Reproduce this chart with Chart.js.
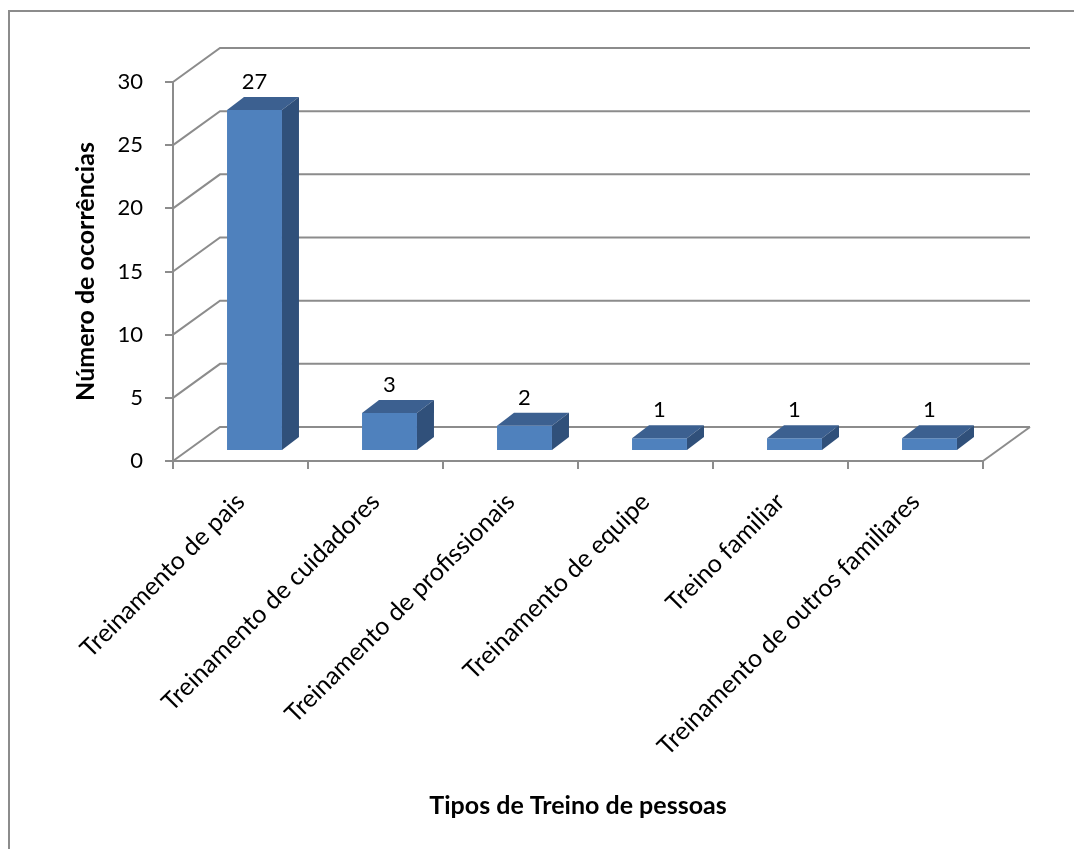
<!DOCTYPE html>
<html>
<head>
<meta charset="utf-8">
<title>Tipos de Treino de pessoas</title>
<script src="https://cdn.jsdelivr.net/npm/chart.js@4/dist/chart.umd.min.js"></script>
<style>
  html, body { margin: 0; padding: 0; background: #fff; }
  canvas { display: block; }
</style>
</head>
<body>
<canvas id="c" width="1074" height="849"></canvas>
<script>
// ---- data ----
const categories = [
  'Treinamento de pais',
  'Treinamento de cuidadores',
  'Treinamento de profissionais',
  'Treinamento de equipe',
  'Treino familiar',
  'Treinamento de outros familiares'
];
const occurrences = [27, 3, 2, 1, 1, 1];
const yTicks = [0, 5, 10, 15, 20, 25, 30];
const xTitle = 'Tipos de Treino de pessoas';
const yTitle = 'Número de ocorrências';

// ---- style ----
const FONT = 'Lato, "Open Sans", sans-serif';
const GRID = '#8c8c8c';
const WALL = { dx: 47, dy: -34 };       // depth of floor and side wall
const BAR_SHIFT = { dx: 14, dy: -10 };  // bars sit in the middle of the depth
const BAR_DEPTH = { dx: 17, dy: -13 };  // thickness of each bar
const FACE = '#4f81bd', TOP = '#3c6090', SIDE = '#30507a';

// outer frame of the chart area
const frame = {
  id: 'frame',
  beforeDraw(chart) {
    const ctx = chart.ctx;
    ctx.save();
    ctx.fillStyle = '#fff';
    ctx.fillRect(0, 0, chart.width, chart.height);
    ctx.strokeStyle = GRID;
    ctx.lineWidth = 2;
    ctx.beginPath();
    ctx.moveTo(9, chart.height);
    ctx.lineTo(9, 11);
    ctx.lineTo(chart.width, 11);
    ctx.stroke();
    ctx.restore();
  }
};

// side wall / back wall gridlines, floor, and 3D bar faces
const box3d = {
  id: 'box3d',
  beforeDatasetsDraw(chart) {
    const { ctx, chartArea: a, scales: { y } } = chart;
    ctx.save();
    ctx.strokeStyle = GRID;
    ctx.lineWidth = 2;
    yTicks.forEach(v => {
      const py = y.getPixelForValue(v);
      ctx.beginPath();
      ctx.moveTo(a.left, py);
      ctx.lineTo(a.left + WALL.dx, py + WALL.dy);
      ctx.lineTo(a.right + WALL.dx, py + WALL.dy);
      ctx.stroke();
    });
    const p0 = y.getPixelForValue(0);
    ctx.beginPath();
    ctx.moveTo(a.right, p0);
    ctx.lineTo(a.right + WALL.dx, p0 + WALL.dy);
    ctx.stroke();
    ctx.restore();

    // front faces are drawn by Chart.js inside the depth
    ctx.save();
    ctx.translate(BAR_SHIFT.dx, BAR_SHIFT.dy);
  },
  afterDatasetsDraw(chart) {
    const ctx = chart.ctx;
    const meta = chart.getDatasetMeta(0);
    const { dx, dy } = BAR_DEPTH;
    meta.data.forEach(bar => {
      const { x, y, base, width } = bar.getProps(['x', 'y', 'base', 'width'], true);
      const l = x - width / 2, r = x + width / 2;
      ctx.fillStyle = TOP;
      ctx.beginPath();
      ctx.moveTo(l, y);
      ctx.lineTo(l + dx, y + dy);
      ctx.lineTo(r + dx, y + dy);
      ctx.lineTo(r, y);
      ctx.closePath();
      ctx.fill();
      ctx.fillStyle = SIDE;
      ctx.beginPath();
      ctx.moveTo(r, y);
      ctx.lineTo(r + dx, y + dy);
      ctx.lineTo(r + dx, base + dy);
      ctx.lineTo(r, base);
      ctx.closePath();
      ctx.fill();
    });
    ctx.restore();

    // value labels above each bar
    ctx.save();
    ctx.fillStyle = '#000';
    ctx.font = '22px ' + FONT;
    ctx.textAlign = 'center';
    ctx.textBaseline = 'middle';
    meta.data.forEach((bar, i) => {
      const { x, y } = bar.getProps(['x', 'y'], true);
      ctx.fillText(String(occurrences[i]), x + BAR_SHIFT.dx, y + BAR_SHIFT.dy + dy - 15);
    });
    ctx.restore();
  }
};

new Chart(document.getElementById('c'), {
  type: 'bar',
  data: {
    labels: categories,
    datasets: [{
      data: occurrences,
      backgroundColor: FACE,
      borderWidth: 0,
      categoryPercentage: 1,
      barPercentage: 0.407,
      clip: false
    }]
  },
  options: {
    responsive: false,
    animation: false,
    devicePixelRatio: 1,
    layout: { padding: { top: 82, right: 91, bottom: 0, left: 0 } },
    plugins: { legend: { display: false }, tooltip: { enabled: false } },
    scales: {
      x: {
        grid: { offset: true, drawOnChartArea: false, drawTicks: true, tickLength: 8, color: GRID, lineWidth: 2 },
        border: { display: true, color: GRID, width: 2 },
        ticks: {
          minRotation: 45, maxRotation: 45, autoSkip: false,
          color: '#000', font: { family: FONT, size: 25 }, padding: 18
        },
        title: {
          display: true, text: xTitle, color: '#000',
          font: { family: FONT, size: 25, weight: 'bold' },
          padding: { top: 0, bottom: 28 }
        },
        afterFit(s) { s.height = 388; }
      },
      y: {
        min: 0, max: 30,
        afterBuildTicks(s) { s.ticks = yTicks.map(v => ({ value: v })); },
        grid: { drawOnChartArea: false, drawTicks: true, tickLength: 8, color: GRID, lineWidth: 2 },
        border: { display: true, color: GRID, width: 2 },
        ticks: { color: '#000', font: { family: FONT, size: 22 }, padding: 22 },
        title: {
          display: true, text: yTitle, color: '#000',
          font: { family: FONT, size: 25, weight: 'bold' },
          padding: { top: 71, bottom: 0 }
        },
        afterFit(s) { s.width = 173; }
      }
    }
  },
  plugins: [frame, box3d]
});
</script>
</body>
</html>
